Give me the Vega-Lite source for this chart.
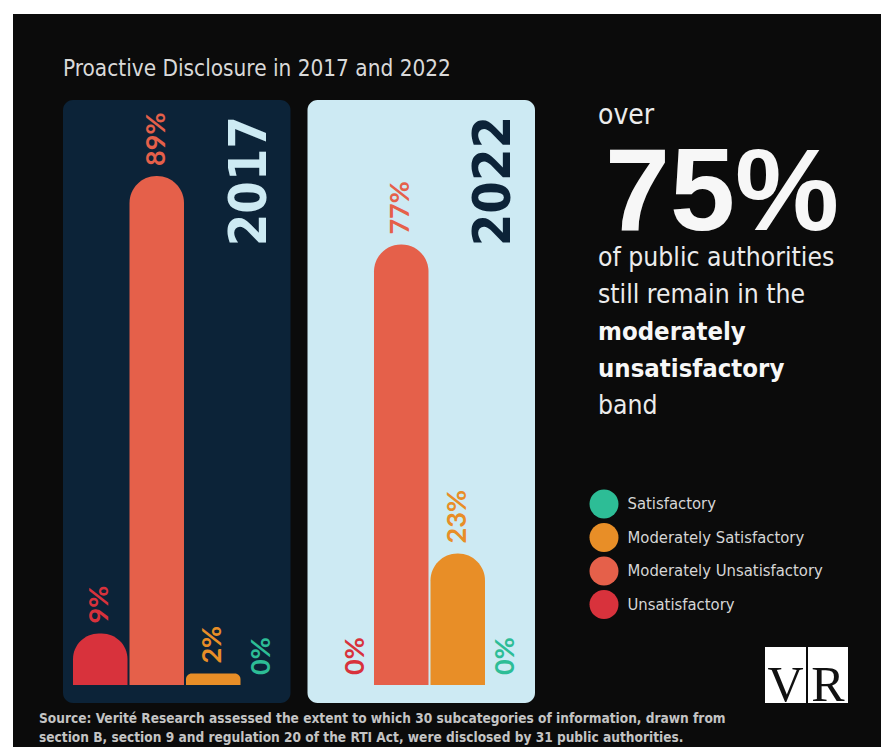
{
  "$schema": "https://vega.github.io/schema/vega-lite/v6.json",
  "width": 881,
  "height": 747,
  "autosize": {"type": "fit", "contains": "padding"},
  "padding": {"left": 13, "top": 14, "right": 0, "bottom": 0},
  "background": "#ffffff",
  "config": {
    "view": {"fill": "#0b0b0b", "stroke": null},
    "legend": {
      "orient": "none",
      "legendX": 576.5,
      "legendY": 475.5,
      "padding": 0,
      "title": null,
      "symbolType": "circle",
      "symbolSize": 841,
      "symbolStrokeWidth": 0,
      "symbolOpacity": 1,
      "labelFont": "DejaVu Sans Condensed, sans-serif",
      "labelFontSize": 16.5,
      "labelColor": "#d6d6d6",
      "labelOffset": 9,
      "labelLimit": 0,
      "rowPadding": 4.5
    }
  },
  "datasets": {
    "shares": [
      {"year": "2017", "category": "Unsatisfactory", "share": 0.09},
      {"year": "2017", "category": "Moderately Unsatisfactory", "share": 0.89},
      {"year": "2017", "category": "Moderately Satisfactory", "share": 0.02},
      {"year": "2017", "category": "Satisfactory", "share": 0.0},
      {"year": "2022", "category": "Unsatisfactory", "share": 0.0},
      {"year": "2022", "category": "Moderately Unsatisfactory", "share": 0.77},
      {"year": "2022", "category": "Moderately Satisfactory", "share": 0.23},
      {"year": "2022", "category": "Satisfactory", "share": 0.0}
    ],
    "panels": [{"year": "2017"}, {"year": "2022"}],
    "one": [{}]
  },
  "resolve": {"scale": {"x": "independent", "y": "independent"}},
  "layer": [
    {
      "encoding": {
        "x": {"field": "year", "type": "nominal", "axis": null,
              "scale": {"type": "band", "domain": ["2017", "2022"], "range": [50, 522], "paddingInner": 0.0695, "paddingOuter": 0}},
        "y": {"type": "quantitative", "axis": null}
      },
      "layer": [
        {
          "data": {"name": "panels"},
          "mark": {"type": "rect", "cornerRadius": 10},
          "encoding": {
            "x": {"field": "year", "type": "nominal"},
            "y": {"datum": 1.0227, "type": "quantitative", "scale": {"domain": [-0.1084, 1.1731], "nice": false, "zero": false}},
            "y2": {"datum": -0.0315},
            "fill": {"condition": {"test": "datum.year == '2017'", "value": "#0c2338"}, "value": "#cdeaf3"}
          }
        },
        {
          "data": {"name": "shares"},
          "mark": {"type": "bar", "cornerRadiusTopLeft": 27, "cornerRadiusTopRight": 27},
          "encoding": {
            "x": {"field": "year", "type": "nominal"},
            "xOffset": {"field": "category", "type": "nominal",
                        "scale": {"domain": ["Unsatisfactory", "Moderately Unsatisfactory", "Moderately Satisfactory", "Satisfactory"], "range": [10, 234], "paddingInner": 0.0354, "paddingOuter": 0}},
            "y": {"field": "share", "type": "quantitative"},
            "y2": {"datum": 0},
            "color": {"field": "category", "type": "nominal",
                      "scale": {"domain": ["Satisfactory", "Moderately Satisfactory", "Moderately Unsatisfactory", "Unsatisfactory"],
                                "range": ["#2dbd96", "#e88e27", "#e5604a", "#d8323c"]}}
          }
        },
        {
          "data": {"name": "shares"},
          "transform": [{"filter": "datum.share > 0"}],
          "mark": {"type": "text", "angle": 270, "align": "left", "baseline": "middle", "dx": 10, "font": "Lato", "fontWeight": "bold", "fontSize": 27},
          "encoding": {
            "x": {"field": "year", "type": "nominal"},
            "xOffset": {"field": "category", "type": "nominal"},
            "y": {"field": "share", "type": "quantitative"},
            "text": {"field": "share", "type": "quantitative", "format": ".0%"},
            "color": {"field": "category", "type": "nominal"}
          }
        },
        {
          "data": {"name": "shares"},
          "transform": [{"filter": "datum.share == 0 && datum.category == 'Satisfactory'"}],
          "mark": {"type": "text", "angle": 270, "align": "left", "baseline": "middle", "dx": 10, "dy": -8, "font": "Lato", "fontWeight": "bold", "fontSize": 27},
          "encoding": {
            "x": {"field": "year", "type": "nominal"},
            "xOffset": {"field": "category", "type": "nominal"},
            "y": {"field": "share", "type": "quantitative"},
            "text": {"field": "share", "type": "quantitative", "format": ".0%"},
            "color": {"field": "category", "type": "nominal"}
          }
        },
        {
          "data": {"name": "shares"},
          "transform": [{"filter": "datum.share == 0 && datum.category == 'Unsatisfactory'"}],
          "mark": {"type": "text", "angle": 270, "align": "left", "baseline": "middle", "dx": 10, "dy": 11, "font": "Lato", "fontWeight": "bold", "fontSize": 27},
          "encoding": {
            "x": {"field": "year", "type": "nominal"},
            "xOffset": {"field": "category", "type": "nominal"},
            "y": {"field": "share", "type": "quantitative"},
            "text": {"field": "share", "type": "quantitative", "format": ".0%"},
            "color": {"field": "category", "type": "nominal"}
          }
        },
        {
          "data": {"name": "panels"},
          "mark": {"type": "text", "angle": 270, "align": "right", "baseline": "middle", "font": "DejaVu Sans Condensed, sans-serif", "fontWeight": "bold", "fontSize": 52},
          "encoding": {
            "x": {"field": "year", "type": "nominal", "bandPosition": 0.82},
            "y": {"datum": 0.9948, "type": "quantitative"},
            "text": {"field": "year"},
            "fill": {"condition": {"test": "datum.year == '2017'", "value": "#cdeaf3"}, "value": "#0c2338"}
          }
        }
      ]
    },
    {
      "data": {"name": "one"},
      "encoding": {
        "x": {"type": "quantitative", "axis": null},
        "y": {"type": "quantitative", "axis": null}
      },
      "layer": [
        {
          "mark": {"type": "text", "text": "Proactive Disclosure in 2017 and 2022", "align": "left", "baseline": "alphabetic", "font": "DejaVu Sans Condensed, sans-serif", "fontSize": 22.4, "color": "#d9d9d9"},
          "encoding": {
            "x": {"datum": 5.76, "type": "quantitative", "scale": {"domain": [0, 100], "nice": false, "zero": false}},
            "y": {"datum": 8.458, "type": "quantitative", "scale": {"domain": [0, 100], "nice": false, "zero": false, "reverse": true}}
          }
        },
        {
          "mark": {"type": "text", "text": "over", "align": "left", "baseline": "alphabetic", "font": "DejaVu Sans Condensed, sans-serif", "fontSize": 28, "color": "#ececec"},
          "encoding": {"x": {"datum": 67.396}, "y": {"datum": 15.0}}
        },
        {
          "mark": {"type": "text", "text": "75%", "align": "left", "baseline": "alphabetic", "font": "Liberation Sans, Arial, sans-serif", "fontWeight": "bold", "fontSize": 117, "color": "#f7f7f7"},
          "encoding": {"x": {"datum": 68.2}, "y": {"datum": 29.468}}
        },
        {
          "mark": {"type": "text", "text": "of public authorities", "align": "left", "baseline": "alphabetic", "font": "DejaVu Sans Condensed, sans-serif", "fontSize": 26.3, "color": "#ececec"},
          "encoding": {"x": {"datum": 67.396}, "y": {"datum": 34.379}}
        },
        {
          "mark": {"type": "text", "text": "still remain in the", "align": "left", "baseline": "alphabetic", "font": "DejaVu Sans Condensed, sans-serif", "fontSize": 26.3, "color": "#ececec"},
          "encoding": {"x": {"datum": 67.396}, "y": {"datum": 39.427}}
        },
        {
          "mark": {"type": "text", "text": "moderately", "align": "left", "baseline": "alphabetic", "font": "DejaVu Sans Condensed, sans-serif", "fontWeight": "bold", "fontSize": 25.5, "color": "#f7f7f7"},
          "encoding": {"x": {"datum": 67.396}, "y": {"datum": 44.475}}
        },
        {
          "mark": {"type": "text", "text": "unsatisfactory", "align": "left", "baseline": "alphabetic", "font": "DejaVu Sans Condensed, sans-serif", "fontWeight": "bold", "fontSize": 25.5, "color": "#f7f7f7"},
          "encoding": {"x": {"datum": 67.396}, "y": {"datum": 49.523}}
        },
        {
          "mark": {"type": "text", "text": "band", "align": "left", "baseline": "alphabetic", "font": "DejaVu Sans Condensed, sans-serif", "fontSize": 26.3, "color": "#ececec"},
          "encoding": {"x": {"datum": 67.396}, "y": {"datum": 54.57}}
        },
        {
          "mark": {"type": "rect", "color": "#ffffff"},
          "encoding": {"x": {"datum": 86.636}, "x2": {"datum": 91.359}, "y": {"datum": 86.357}, "y2": {"datum": 93.997}}
        },
        {
          "mark": {"type": "rect", "color": "#ffffff"},
          "encoding": {"x": {"datum": 91.59}, "x2": {"datum": 96.198}, "y": {"datum": 86.357}, "y2": {"datum": 93.997}}
        },
        {
          "mark": {"type": "text", "text": "V", "align": "center", "baseline": "alphabetic", "font": "Liberation Serif, serif", "fontSize": 50, "color": "#111111"},
          "encoding": {"x": {"datum": 88.997}, "y": {"datum": 93.7}}
        },
        {
          "mark": {"type": "text", "text": "R", "align": "center", "baseline": "alphabetic", "font": "Liberation Serif, serif", "fontSize": 50, "color": "#111111"},
          "encoding": {"x": {"datum": 93.894}, "y": {"datum": 93.7}}
        },
        {
          "mark": {"type": "text", "text": ["Source: Verité Research assessed the extent to which 30 subcategories of information, drawn from", "section B, section 9 and regulation 20 of the RTI Act, were disclosed by 31 public authorities."], "align": "left", "baseline": "alphabetic", "lineHeight": 19, "font": "DejaVu Sans Condensed, sans-serif", "fontWeight": "bold", "fontSize": 13.6, "color": "#c4c4c4"},
          "encoding": {"x": {"datum": 2.995}, "y": {"datum": 96.726}}
        }
      ]
    }
  ]
}
